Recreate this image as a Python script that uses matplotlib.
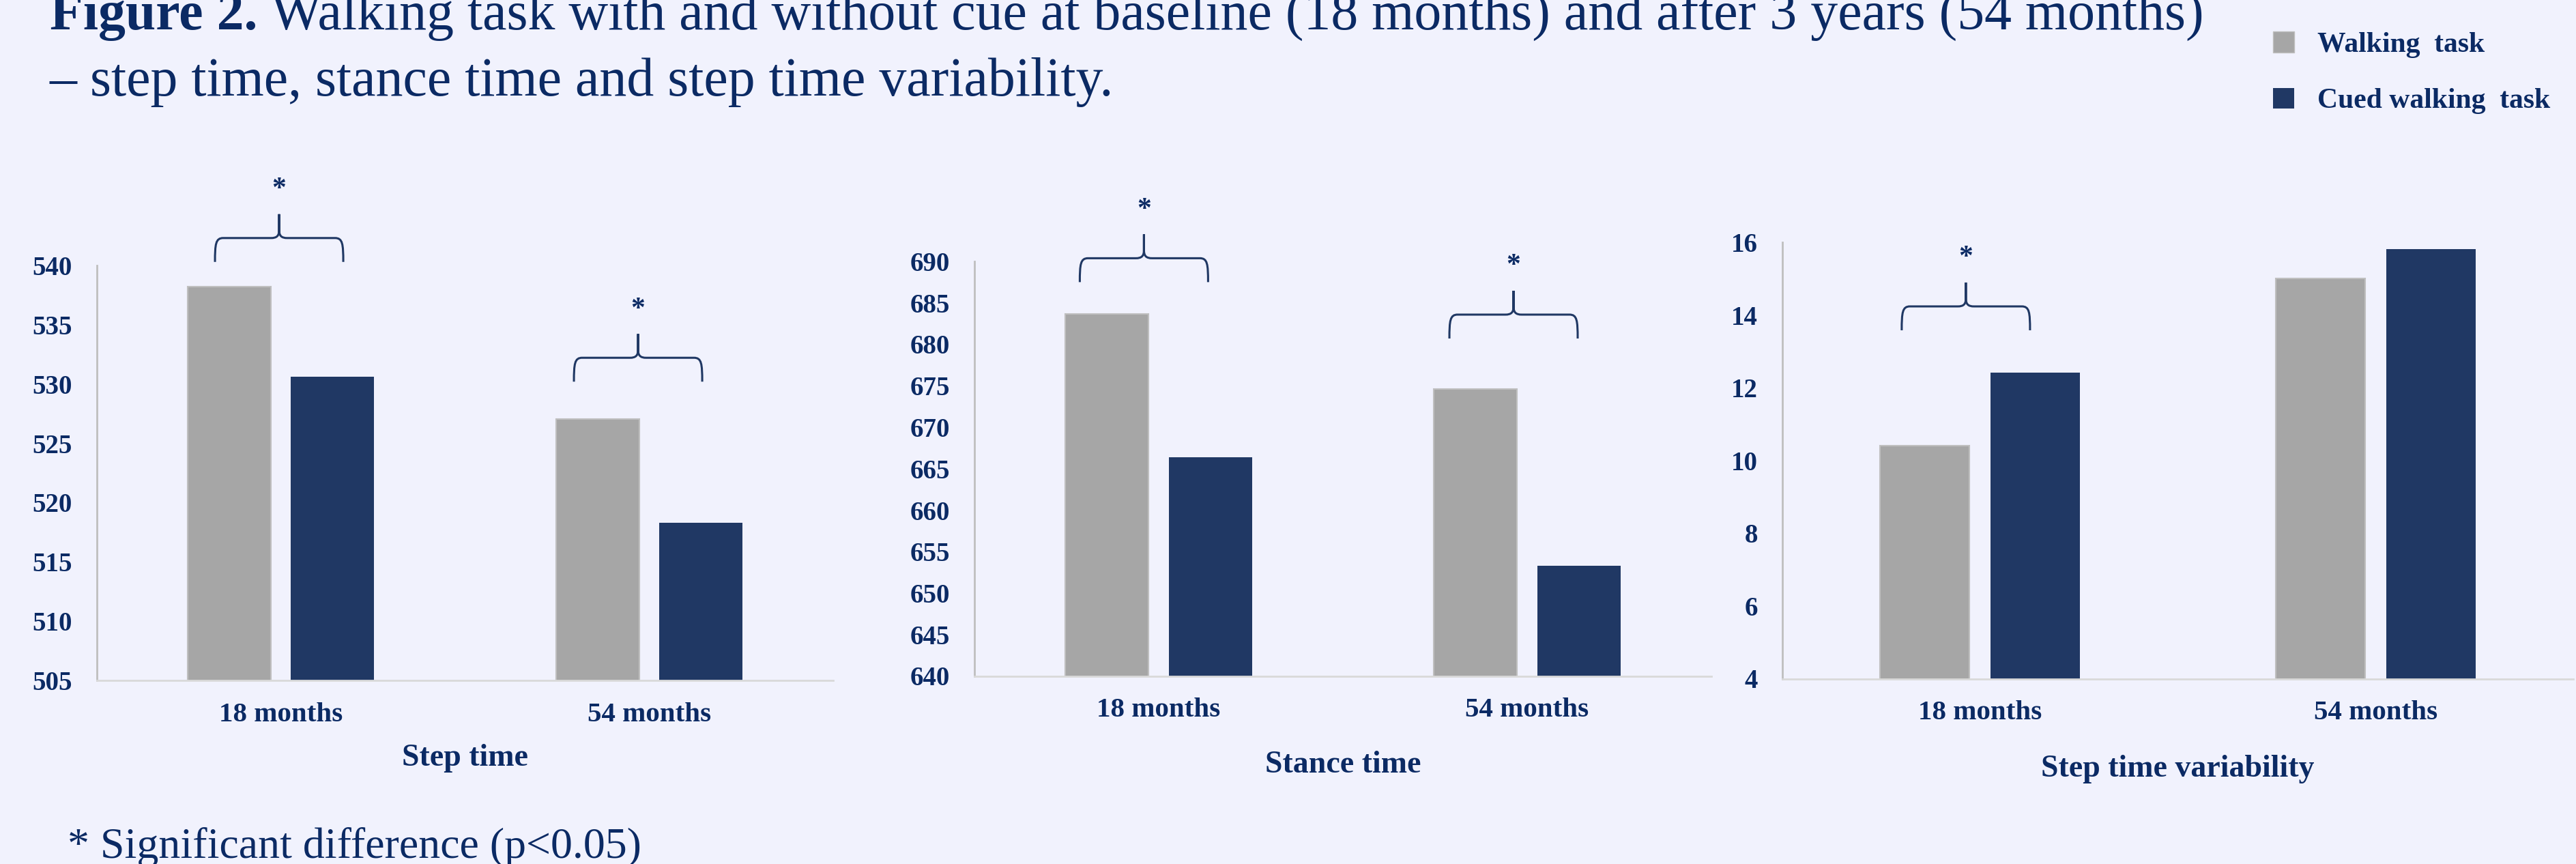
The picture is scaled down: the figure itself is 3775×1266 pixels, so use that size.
import numpy as np
import matplotlib.pyplot as plt
from matplotlib.path import Path
from matplotlib.patches import PathPatch, Patch
from matplotlib.transforms import ScaledTranslation

plt.rcParams['font.family'] = ['Liberation Serif', 'DejaVu Serif']

# data
months = ['18 months', '54 months']
panel_titles = ['Step time', 'Stance time', 'Step time variability']
walking = [[538.2, 527.05], [683.7, 674.6], [10.40, 15.01]]
cued = [[530.6, 518.3], [666.4, 653.3], [12.42, 15.82]]
y_limits = [(505, 540), (640, 690), (4, 16)]
y_steps = [5, 5, 2]
# significance brackets: panel, x centre, base value
signif = [(0, -0.005, 540.3), (0, 0.97, 530.2),
          (1, -0.04, 687.5), (1, 0.963, 680.7),
          (2, -0.036, 13.58)]

bg = '#f1f2fd'
txt = '#0b2a64'
grey = '#a6a6a6'
navy = '#203864'

W, H = 3775, 1266
fig = plt.figure(figsize=(W / 100, H / 100), dpi=100, facecolor=bg)

# axes rectangles in pixels: left, bottom, right, top
rects = [(142, 997, 1221, 389), (1428, 990.5, 2508, 383), (2612, 994.5, 3771, 355)]
labelpads = [17, 29, 31]

axes = []
for i, (l, b, r, t) in enumerate(rects):
    ax = fig.add_axes([l / W, 1 - b / H, (r - l) / W, (b - t) / H])
    ax.set_facecolor(bg)
    x = np.arange(len(months))
    ax.bar(x - 0.14, walking[i], 0.226, color=grey, edgecolor='#bfbfbf', linewidth=1.5)
    ax.bar(x + 0.14, cued[i], 0.226, color=navy)
    lo, hi = y_limits[i]
    ax.set_yticks(np.arange(lo, hi + 0.1, y_steps[i]))
    ax.set_xticks(x, months)
    for s in ['top', 'right']:
        ax.spines[s].set_visible(False)
    ax.spines['left'].set_color('#bfbfbf')
    ax.spines['bottom'].set_color('#d9d9d9')
    ax.spines['left'].set_linewidth(2)
    ax.spines['bottom'].set_linewidth(2)
    ax.tick_params(axis='y', length=0, pad=26, labelsize=28, labelcolor=txt)
    ax.tick_params(axis='x', length=0, pad=23, labelsize=29.5, labelcolor=txt)
    for lab in ax.get_xticklabels() + ax.get_yticklabels():
        lab.set_fontweight('bold')
    ax.set_xlabel(panel_titles[i], fontsize=33, fontweight='bold', color=txt,
                  labelpad=labelpads[i])
    axes.append(ax)


def brace(ax, xc, base):
    half, leg, tip, r = 0.94, 0.35, 0.35, 0.12
    verts, codes = [], []
    for sgn in (-1, 1):
        verts += [(sgn * half, 0),
                  (sgn * half, leg * 0.75), (sgn * (half - 0.01), leg), (sgn * (half - r), leg),
                  (sgn * r, leg),
                  (sgn * r * 0.3, leg), (0, leg + 0.03), (0, leg + 0.12),
                  (0, leg + tip)]
        codes += [Path.MOVETO, Path.CURVE4, Path.CURVE4, Path.CURVE4, Path.LINETO,
                  Path.CURVE4, Path.CURVE4, Path.CURVE4, Path.LINETO]
    tr = fig.dpi_scale_trans + ScaledTranslation(xc, base, ax.transData)
    ax.add_patch(PathPatch(Path(verts, codes), fill=False, edgecolor=navy,
                           linewidth=2.2, transform=tr, clip_on=False))
    ax.annotate('*', xy=(xc, base), xytext=(0, 76), textcoords='offset points',
                ha='center', va='center', fontsize=30, fontweight='bold', color=txt,
                annotation_clip=False)


for p, xc, base in signif:
    brace(axes[p], xc, base)

for i, ax in enumerate(axes):
    ax.set_xlim(-0.5, 1.5)
    ax.set_ylim(*y_limits[i])

# title in two styles
t1 = fig.text(73 / W, 1 - 43 / H, 'Figure 2.', fontsize=57.5, fontweight='bold',
              color=txt, va='baseline')
fig.canvas.draw()
bb = t1.get_window_extent()
fig.text(bb.x1 / W, 1 - 43 / H, ' Walking task with and without cue at baseline '
         '(18 months) and after 3 years (54 months)', fontsize=57.5, color=txt, va='baseline')
fig.text(73 / W, 1 - 140 / H, '\u2013 step time, stance time and step time variability.',
         fontsize=57.5, color=txt, va='baseline')

handles = [Patch(facecolor=grey, edgecolor='#bfbfbf'), Patch(facecolor=navy)]
fig.legend(handles, ['Walking  task', 'Cued walking  task'], loc='upper left',
           bbox_to_anchor=(3331 / W, 1 - 46 / H), frameon=False, borderpad=0,
           borderaxespad=0, handlelength=0.75, handleheight=0.75, labelspacing=1.05,
           handletextpad=0.82, prop={'size': 30, 'weight': 'bold'}, labelcolor=txt)

fig.text(99 / W, 1 - 1257 / H, '* Significant difference (p<0.05)', fontsize=46,
         color=txt, va='baseline')

fig.savefig('out.png', dpi=100, facecolor=bg)
